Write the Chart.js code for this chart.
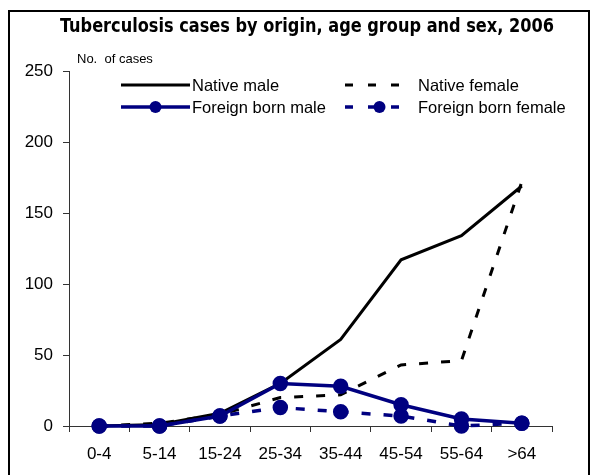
<!DOCTYPE html>
<html>
<head>
<meta charset="utf-8">
<script src="https://cdn.jsdelivr.net/npm/chart.js@4"></script>
<style>
  body { margin: 0; background: #fff; overflow: hidden; }
  #wrap { position: relative; width: 593px; height: 475px; }
  #frame { position: absolute; left: 8px; top: 10px; width: 578px; height: 500px; border: 2px solid #000; }
  #myChart { position: absolute; left: 0; top: 0; }
</style>
</head>
<body>
<div id="wrap">
  <div id="frame"></div>
  <canvas id="myChart" width="593" height="475"></canvas>
</div>
<script>
const titleText = 'Tuberculosis cases by origin, age group and sex, 2006';
const yTitle = 'No.  of cases';
const ageGroups = ['0-4', '5-14', '15-24', '25-34', '35-44', '45-54', '55-64', '>64'];
const nativeMale = [0, 1, 9, 30, 61, 117, 134, 169];
const nativeFemale = [0, 2, 8, 20, 22, 43, 46, 172];
const foreignMale = [0, 0, 7, 30, 28, 15, 5, 2];
const foreignFemale = [0, 0, 7, 13, 10, 7, 0, 2];
const yTicks = [0, 50, 100, 150, 200, 250];

const navy = '#000080';

// title, axis caption and the two-column legend
const decor = {
  id: 'decor',
  afterDraw(chart) {
    const ctx = chart.ctx;
    ctx.save();
    ctx.fillStyle = '#000';
    ctx.font = 'bold 20px "DejaVu Sans Condensed", "Liberation Sans Narrow", sans-serif';
    ctx.textBaseline = 'alphabetic';
    ctx.textAlign = 'left';
    const w = ctx.measureText(titleText).width;
    ctx.translate(60, 32);
    ctx.scale(494 / w, 1);
    ctx.fillText(titleText, 0, 0);
    ctx.restore();

    ctx.save();
    ctx.fillStyle = '#000';
    ctx.font = '13px "Liberation Sans", Arial, sans-serif';
    ctx.textBaseline = 'alphabetic';
    ctx.fillText(yTitle, 77, 63);

    const spots = [
      { x1: 121, x2: 190, tx: 192, y: 85 },
      { x1: 345, x2: 400, tx: 418, y: 85 },
      { x1: 121, x2: 190, tx: 192, y: 107 },
      { x1: 345, x2: 400, tx: 418, y: 107 }
    ];
    chart.data.datasets.forEach((ds, i) => {
      const s = spots[i];
      ctx.strokeStyle = ds.borderColor;
      ctx.lineWidth = ds.borderWidth;
      ctx.setLineDash(ds.borderDash ? [8, 15] : []);
      ctx.beginPath();
      ctx.moveTo(s.x1, s.y);
      ctx.lineTo(s.x2, s.y);
      ctx.stroke();
      ctx.setLineDash([]);
      if (ds.pointRadius > 0) {
        ctx.fillStyle = ds.pointBackgroundColor;
        ctx.beginPath();
        ctx.arc((s.x1 + s.x2) / 2 + (ds.borderDash ? 7 : 0), s.y, ds.pointRadius, 0, Math.PI * 2);
        ctx.fill();
      }
      ctx.fillStyle = '#000';
      ctx.font = '16.5px "Liberation Sans", Arial, sans-serif';
      ctx.textBaseline = 'middle';
      ctx.fillText(ds.label, s.tx, s.y + 1);
    });
    ctx.restore();
  }
};

const ctx = document.getElementById('myChart').getContext('2d');
const myChart = new Chart(ctx, {
  type: 'line',
  data: {
    labels: ageGroups,
    datasets: [
      { label: 'Native male', data: nativeMale, borderColor: '#000', borderWidth: 3,
        pointRadius: 0, order: 3 },
      { label: 'Native female', data: nativeFemale, borderColor: '#000', borderWidth: 3,
        borderDash: [9, 13], pointRadius: 0, order: 4 },
      { label: 'Foreign born male', data: foreignMale, borderColor: navy, borderWidth: 3.5,
        pointRadius: 6, pointBackgroundColor: navy, pointBorderColor: navy, order: 1 },
      { label: 'Foreign born female', data: foreignFemale, borderColor: navy, borderWidth: 3.5,
        borderDash: [9, 13], pointRadius: 6, pointBackgroundColor: navy, pointBorderColor: navy, order: 2 }
    ]
  },
  options: {
    responsive: false,
    animation: false,
    devicePixelRatio: 1,
    clip: false,
    elements: { line: { tension: 0 } },
    layout: { padding: { left: 0, top: 71, right: 41, bottom: 0 } },
    plugins: {
      legend: { display: false },
      title: { display: false },
      tooltip: { enabled: false }
    },
    scales: {
      x: {
        offset: true,
        grid: { display: true, offset: true, drawOnChartArea: false, drawTicks: true, tickLength: 6, color: '#333' },
        border: { display: true, color: '#333', width: 1 },
        ticks: { color: '#000', padding: 12, maxRotation: 0, autoSkip: false,
          font: { family: '"Liberation Sans", Arial, sans-serif', size: 17 } },
        afterFit(scale) {
          scale.height = 49;
          scale.paddingLeft = 0;
          scale.paddingRight = 0;
        }
      },
      y: {
        min: 0,
        max: 250,
        afterBuildTicks(scale) {
          scale.ticks = yTicks.map(v => ({ value: v }));
        },
        grid: { display: true, drawOnChartArea: false, drawTicks: true, tickLength: 6, color: '#333' },
        border: { display: true, color: '#333', width: 1 },
        ticks: { color: '#000', padding: 10,
          font: { family: '"Liberation Sans", Arial, sans-serif', size: 17 } },
        afterFit(scale) {
          scale.width = 69;
          scale.paddingTop = 0;
          scale.paddingBottom = 0;
        }
      }
    }
  },
  plugins: [decor]
});
</script>
</body>
</html>
